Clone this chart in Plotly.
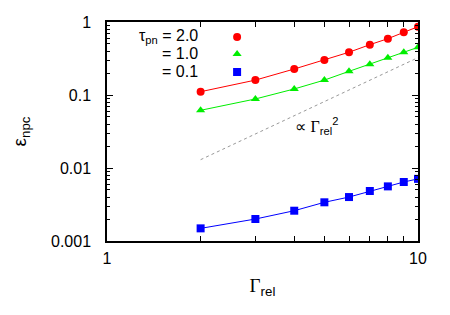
import plotly.graph_objects as go

gamma = [2, 3, 4, 5, 6, 7, 8, 9, 10]
eps_tau20 = [0.111, 0.160, 0.227, 0.301, 0.385, 0.489, 0.591, 0.721, 0.863]
eps_tau10 = [0.0617, 0.0882, 0.121, 0.160, 0.211, 0.263, 0.324, 0.385, 0.450]
eps_tau01 = [0.00149, 0.0020, 0.0026, 0.00339, 0.0040, 0.00484, 0.0056, 0.00643, 0.0071]
guide_x = [2, 10]
guide_y = [0.013, 0.325]
legend_labels = ["τ<sub>pn</sub> = 2.0", "= 1.0", "= 0.1"]
ytick_vals = [0.001, 0.01, 0.1, 1]
ytick_text = ["0.001", "0.01", "0.1", "1"]
xtick_vals = [1, 2, 3, 4, 5, 6, 7, 8, 9, 10]
xtick_text = ["1", "", "", "", "", "", "", "", "", "10"]

FONT = "Liberation Sans, Arial, sans-serif"
series = [
    (eps_tau20, "#ff0000", "circle"),
    (eps_tau10, "#00ee00", "triangle-up"),
    (eps_tau01, "#0000ff", "square"),
]
legend_ids = ["legend", "legend2", "legend3"]
row_y = [0.932, 0.854, 0.772]   # paper fractions of the legend rows

fig = go.Figure()
fig.add_trace(go.Scatter(x=guide_x, y=guide_y, mode="lines",
                         line=dict(color="#999999", width=1, dash="3px,3px"),
                         showlegend=False))
for vals, col, sym in series:
    fig.add_trace(go.Scatter(x=gamma, y=vals, mode="lines",
                             line=dict(color=col, width=1), showlegend=False))
for (vals, col, sym), lid in zip(series, legend_ids):
    fig.add_trace(go.Scatter(x=gamma, y=vals, mode="markers", name=" ",
                             marker=dict(color=col, symbol=sym, size=8, line=dict(width=0)),
                             showlegend=True, legend=lid))

minor_y = [m * 10 ** e for e in (-3, -2, -1) for m in range(2, 10)]

legend_common = dict(xanchor="left", yanchor="middle", bgcolor="rgba(0,0,0,0)",
                     font=dict(size=12), itemwidth=30, borderwidth=0)
fig.update_layout(
    width=450, height=315,
    margin=dict(l=107, r=32, t=22, b=74),
    paper_bgcolor="white", plot_bgcolor="white",
    font=dict(family=FONT, size=16, color="black"),
    showlegend=True,
    legend=dict(x=0.354, y=row_y[0], **legend_common),
    legend2=dict(x=0.354, y=row_y[1], **legend_common),
    legend3=dict(x=0.354, y=row_y[2], **legend_common),
    xaxis=dict(type="log", range=[0, 1], tickmode="array", tickvals=xtick_vals,
               ticktext=xtick_text, ticks="inside", ticklen=5, tickcolor="black",
               showline=True, linecolor="black", linewidth=1.5, mirror="allticks",
               showgrid=False, zeroline=False, ticklabelstandoff=2,
               title=dict(text="<span style='font-family:Liberation Serif'>Γ</span><sub>rel</sub>",
                          standoff=13)),
    yaxis=dict(type="log", range=[-3, 0], tickmode="array", tickvals=ytick_vals,
               ticktext=ytick_text, ticks="inside", ticklen=6, tickcolor="black",
               showline=True, linecolor="black", linewidth=1.5, mirror="allticks",
               showgrid=False, zeroline=False, ticklabelstandoff=11,
               minor=dict(tickmode="array", tickvals=minor_y, ticks="inside",
                          ticklen=3, tickcolor="black", showgrid=False),
               title=dict(text="ε<sub>npc</sub>", standoff=19)),
)

for i, lab in enumerate(legend_labels):
    fig.add_annotation(text=lab, xref="paper", yref="paper",
                       x=0.299, y=row_y[i], xanchor="right", yanchor="middle",
                       showarrow=False, font=dict(size=16))

fig.add_annotation(text="∝ <span style='font-family:Liberation Serif'>Γ</span><sub>rel</sub><sup>2</sup>",
                   x=0.597, y=-1.43, xref="x", yref="y", xanchor="left", yanchor="middle",
                   showarrow=False, font=dict(size=16))

fig.write_html("out.html", config={"displayModeBar": False},
               post_script="document.body.style.margin='0';")
